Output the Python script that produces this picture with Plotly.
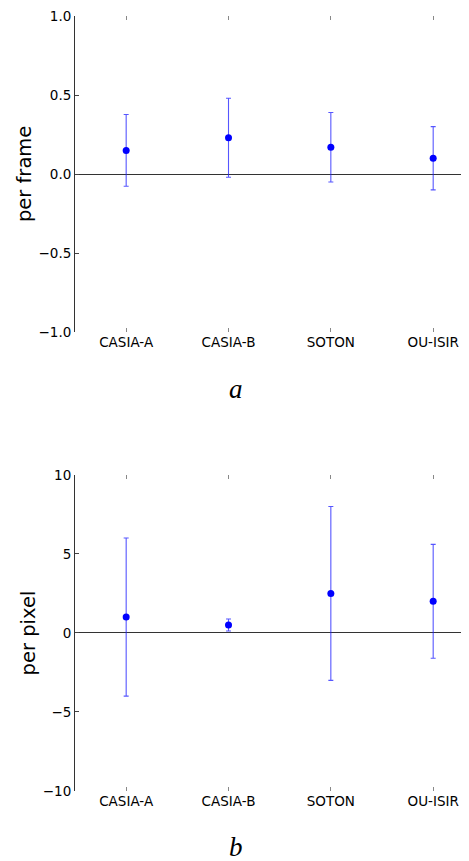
import plotly.graph_objects as go
from plotly.subplots import make_subplots

categories = ["CASIA-A", "CASIA-B", "SOTON", "OU-ISIR"]
frame_mean = [0.15, 0.23, 0.17, 0.10]
frame_err = [0.227, 0.25, 0.22, 0.20]
pixel_mean = [1.0, 0.5, 2.5, 2.0]
pixel_err = [5.0, 0.38, 5.5, 3.6]
frame_ticks = [-1.0, -0.5, 0.0, 0.5, 1.0]
pixel_ticks = [-10, -5, 0, 5, 10]

OFF = 8  # default page body margin
W, H = 469 - OFF, 861 - OFF
ml, mr, mt, mb = 75 - OFF, 0, 14 - OFF, 70
ph = H - mt - mb
pw = W - ml - mr

def py(p):
    return (H - mb - (p - OFF)) / ph

def px(p):
    return ((p - OFF) - ml) / pw

fig = make_subplots(rows=2, cols=1, vertical_spacing=0.1)

xpos = list(range(len(categories)))

for row, mean, err in [(1, frame_mean, frame_err), (2, pixel_mean, pixel_err)]:
    fig.add_trace(go.Scatter(
        x=xpos, y=mean, mode="markers",
        marker=dict(color="#0000ff", size=7, line=dict(width=0)),
        error_y=dict(type="data", array=err, visible=True,
                     color="rgba(30,30,255,0.75)", thickness=1.1, width=2.5),
        showlegend=False, cliponaxis=False,
    ), row=row, col=1)

tickfont = dict(family="DejaVu Sans", size=13.5, color="black")
xcommon = dict(range=[-0.5, 3.35], tickmode="array", tickvals=xpos, ticktext=categories,
               ticks="inside", ticklen=4, tickcolor="#888", tickwidth=1,
               mirror="ticks", showline=False, showgrid=False, zeroline=False,
               tickfont=tickfont)
fig.update_xaxes(**xcommon)
fig.update_xaxes(domain=[0, 1])

ycommon = dict(ticks="inside", ticklen=4, tickcolor="#444", tickwidth=1,
               showline=True, linecolor="#333", linewidth=1, showgrid=False,
               zeroline=True, zerolinecolor="#333", zerolinewidth=1,
               tickfont=tickfont, tickmode="array", ticklabeloverflow="allow")
fig.update_yaxes(**ycommon)
fig.update_yaxes(range=[-1.00001, 1.00001], tickvals=frame_ticks,
                 ticktext=[f"{v:.1f}".replace("-", "\u2212") for v in frame_ticks],
                 domain=[py(331), py(14)], row=1, col=1)
fig.update_yaxes(range=[-10.0001, 10.0001], tickvals=pixel_ticks,
                 ticktext=[str(v).replace("-", "\u2212") for v in pixel_ticks],
                 domain=[py(791), py(474)], row=2, col=1)

annots = [
    dict(text="per frame", x=px(24), y=py(172.5), textangle=-90,
         font=dict(family="DejaVu Sans", size=19.5, color="black")),
    dict(text="per pixel", x=px(28), y=py(633), textangle=-90,
         font=dict(family="DejaVu Sans", size=19.5, color="black")),
    dict(text="<i>a</i>", x=px(236), y=py(388),
         font=dict(family="Liberation Serif", size=27, color="black")),
    dict(text="<i>b</i>", x=px(236), y=py(847),
         font=dict(family="Liberation Serif", size=27, color="black")),
]
for a in annots:
    fig.add_annotation(xref="paper", yref="paper", showarrow=False,
                       xanchor="center", yanchor="middle", **a)

fig.update_layout(width=W, height=H, margin=dict(l=ml, r=mr, t=mt, b=mb),
                  plot_bgcolor="white", paper_bgcolor="white")

fig.write_html("out.html")
